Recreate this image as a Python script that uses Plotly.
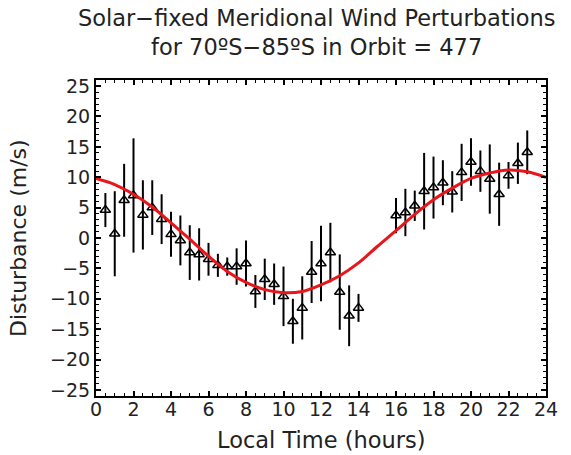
import plotly.graph_objects as go

# Data
hours_a = [0.5, 1.0, 1.5, 2.0, 2.5, 3.0, 3.5, 4.0, 4.5, 5.0, 5.5, 6.0, 6.5, 7.0,
           7.5, 8.0, 8.5, 9.0, 9.5, 10.0, 10.5, 11.0, 11.5, 12.0, 12.5, 13.0, 13.5, 14.0]
dist_a = [4.6, 0.7, 6.2, 7.0, 3.8, 5.0, 3.1, 0.6, -0.4, -2.4, -2.7, -3.5, -4.5, -4.7,
          -4.7, -4.2, -8.8, -6.8, -7.6, -9.6, -13.7, -11.5, -5.6, -4.2, -2.4, -8.9, -12.8, -11.5]
err_a = [2.8, 7.0, 6.0, 9.4, 5.7, 4.5, 4.1, 3.7, 4.1, 4.5, 4.3, 2.7, 1.9, 1.5,
         3.0, 3.8, 2.7, 3.4, 3.4, 4.9, 3.7, 5.2, 5.1, 6.2, 4.9, 6.2, 5.0, 2.3]

hours_b = [16.0, 16.5, 17.0, 17.5, 18.0, 18.5, 19.0, 19.5, 20.0, 20.5, 21.0, 21.5, 22.0, 22.5, 23.0]
dist_b = [3.7, 4.2, 5.3, 7.7, 8.3, 9.1, 7.6, 10.8, 12.5, 11.0, 9.7, 7.2, 10.3, 12.3, 14.1]
err_b = [2.9, 3.9, 2.5, 6.3, 5.1, 3.7, 3.4, 4.7, 3.9, 3.4, 5.7, 5.2, 2.2, 3.4, 3.6]

fit_hours = list(range(0, 25))
fit_vals = [9.8, 8.8, 7.2, 5.1, 2.5, -0.2, -3.0, -5.5, -7.3, -8.5, -9.0, -8.8, -7.7,
            -6.2, -4.1, -1.4, 1.2, 3.9, 6.3, 8.2, 9.8, 10.7, 11.2, 10.9, 10.0]

x_ticks = list(range(0, 25, 2))
y_ticks = list(range(-25, 26, 5))

title_lines = ["Solar\u2212fixed Meridional Wind Perturbations",
               "for 70\u00baS\u221285\u00baS in Orbit = 477"]
x_title = "Local Time (hours)"
y_title = "Disturbance (m/s)"

hours = hours_a + hours_b
dist = dist_a + dist_b
errs = err_a + err_b

FONT = "DejaVu Sans"
TXT = "#222"

fig = go.Figure()
fig.add_trace(go.Scatter(
    x=hours, y=dist, mode="markers",
    marker=dict(symbol="triangle-up-open", size=9, color="black", line=dict(width=1.5, color="black")),
    error_y=dict(type="data", array=errs, visible=True, color="black", thickness=2, width=0),
    showlegend=False,
))
fig.add_trace(go.Scatter(
    x=fit_hours, y=fit_vals, mode="lines",
    line=dict(color="#e8151b", width=3, shape="spline", smoothing=1.0),
    showlegend=False,
))

axis_common = dict(
    showline=True, linecolor="black", linewidth=2, mirror="allticks",
    ticks="inside", ticklen=5, tickwidth=1.5, tickcolor="black",
    showgrid=False, zeroline=False, automargin=False,
    tickfont=dict(family=FONT, size=19, color=TXT),
)

fig.update_xaxes(
    range=[0, 24], tickvals=x_ticks, ticktext=[str(v) for v in x_ticks],
    minor=dict(dtick=0.5, ticks="inside", ticklen=3, tickcolor="black", tickwidth=1.2),
    ticklabelstandoff=-5,
    **axis_common,
)
fig.update_yaxes(
    range=[-26, 26], tickvals=y_ticks, ticktext=[str(v).replace("-", "\u2212") for v in y_ticks],
    minor=dict(dtick=1, ticks="inside", ticklen=3, tickcolor="black", tickwidth=1.2),
    **axis_common,
)

fig.add_annotation(text=title_lines[0], xref="paper", yref="paper",
                   x=0.49, y=1.0, yshift=62, yanchor="middle", showarrow=False,
                   font=dict(family=FONT, size=22.5, color=TXT))
fig.add_annotation(text=title_lines[1], xref="paper", yref="paper",
                   x=0.49, y=1.0, yshift=33, yanchor="middle", showarrow=False,
                   font=dict(family=FONT, size=22.5, color=TXT))
fig.add_annotation(text=x_title, xref="paper", yref="paper",
                   x=0.5, y=0.0, yshift=-44, xanchor="center", yanchor="middle", showarrow=False,
                   font=dict(family=FONT, size=22.5, color=TXT))
fig.add_annotation(text=y_title, xref="paper", yref="paper", textangle=-90,
                   x=0.0, y=0.5, xshift=-78, xanchor="center", yanchor="middle", showarrow=False,
                   font=dict(family=FONT, size=22, color=TXT))

fig.update_layout(
    width=571, height=455,
    margin=dict(l=96, r=25, t=80, b=59),
    paper_bgcolor="white", plot_bgcolor="white",
)

fig.write_html("out.html", config={"displayModeBar": False},
               post_script="document.body.style.margin='0';")
